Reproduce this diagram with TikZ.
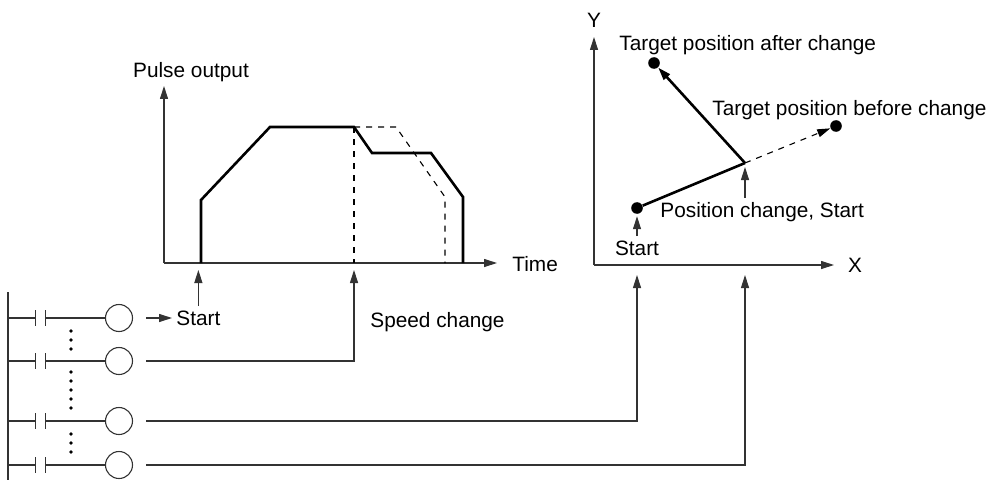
\documentclass[tikz,border=0pt]{standalone}
\usepackage{fontspec}
\setmainfont{Liberation Sans}
\usetikzlibrary{arrows.meta,positioning}
\begin{document}
\begin{tikzpicture}[x=0.5pt,y=-0.5pt,
  font=\fontsize{10.4}{12}\selectfont,
  >={Triangle[length=6.5pt,width=4pt]},
  wire/.style={draw=black!80,line width=0.55pt},
  axis/.style={wire,->},
  pointer/.style={wire,->},
  pulse/.style={line width=1.3pt},
  guide/.style={line width=0.55pt,dashed},
  coil/.style={circle,draw=black!80,line width=0.55pt,minimum size=13.5pt,inner sep=0pt},
  contact/.style={rectangle,minimum width=4.5pt,minimum height=7.5pt,inner sep=0pt},
  dot/.style={circle,fill,inner sep=0pt,minimum size=5.8pt},
  label/.style={inner sep=2pt}]
  \useasboundingbox (0,0) rectangle (994,481);

  % pulse output graph
  \coordinate (porigin) at (164,263);
  \draw[axis] (porigin) -- (164,86);
  \draw[axis] (porigin) -- (497,263);
  \node[label] (lblpulse) at (191,72) {Pulse output};
  \node[label,anchor=west] (lbltime) at (508,264) {Time};
  \draw[guide] (354,127) -- (396,127) -- (445,197) -- (445,263);
  \draw[guide] (354,127) -- (354,263);
  \draw[pulse] (201,263) -- (201,200) -- (270,127) -- (354,127) -- (372,153)
    -- (431,153) -- (463,197) -- (463,263);
  \coordinate (tstart) at (201,270);
  \coordinate (tspeed) at (354,270);

  % XY graph
  \coordinate (xyorigin) at (594,265);
  \draw[axis] (xyorigin) -- (594,37);
  \draw[axis] (xyorigin) -- (834,265);
  \node[label] (lbly) at (594,20) {Y};
  \node[label] (lblx) at (855,265) {X};
  \node[dot] (pstart) at (637,208) {};
  \coordinate (pchange) at (745,163);
  \node[dot] (ptafter) at (654,63) {};
  \node[dot] (ptbefore) at (836,126) {};
  \draw[pulse] (pstart) -- (pchange);
  \draw[pulse,->] (pchange) -- (ptafter);
  \draw[guide,->] (pchange) -- (ptbefore);
  \node[label,anchor=west] (lblafter) at (615,45) {Target position after change};
  \node[label,anchor=west] (lblbefore) at (708,110) {Target position before change};
  \node[label,anchor=west] (lblposchange) at (656,212) {Position change, Start};
  \node[label] (lblxystart) at (637,248) {Start};
  \draw[pointer,shorten >=1pt] (lblxystart.north) -- (pstart);
  \draw[pointer,shorten >=2pt] (lblposchange.north -| pchange) -- (pchange);
  \coordinate (txstart) at (637,275);
  \coordinate (txchange) at (745,275);

  % ladder
  \draw[wire] (8,292) -- (8,480);
  \coordinate (rail1) at (8,318);
  \coordinate (rail2) at (8,361);
  \coordinate (rail3) at (8,421);
  \coordinate (rail4) at (8,465);
  \node[contact] (nc1) at (40.5,318) {};
  \node[contact] (nc2) at (40.5,361) {};
  \node[contact] (nc3) at (40.5,421) {};
  \node[contact] (nc4) at (40.5,465) {};
  \node[coil] (coil1) at (119,318) {};
  \node[coil] (coil2) at (119,361) {};
  \node[coil] (coil3) at (119,421) {};
  \node[coil] (coil4) at (119,465) {};
  \foreach \r in {1,2,3,4} {
    \draw[wire] (rail\r) -- (nc\r.west);
    \draw[wire] (nc\r.north west) -- (nc\r.south west);
    \draw[wire] (nc\r.north east) -- (nc\r.south east);
    \draw[wire] (nc\r.east) -- (coil\r.west);
    \coordinate (out\r) at ([xshift=6.5pt]coil\r.east);
  }
  \foreach \y in {331,340,349,372,381,390,399,408,434,443,452}
    \fill (71,\y) circle (1.8);

  % outputs
  \node[label,anchor=west] (lblstart) at (172,318) {Start};
  \draw[pointer] (out1) -- (lblstart.west);
  \draw[pointer] (lblstart.north) -- (lblstart.north |- tstart);
  \draw[pointer] (out2) -| (tspeed);
  \node[label,anchor=west] (lblspeed) at (366,322) {Speed change};
  \draw[pointer] (out3) -| (txstart);
  \draw[pointer] (out4) -| (txchange);
\end{tikzpicture}
\end{document}
